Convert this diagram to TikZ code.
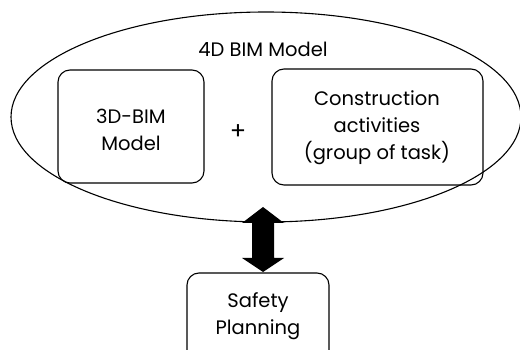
\documentclass[tikz,border=0pt]{standalone}
\usepackage{fontspec}
\setmainfont{Poppins}
\begin{document}
\begin{tikzpicture}[x=1pt,y=-1pt,
  box/.style={draw=black, line width=1.1pt, rounded corners=12pt},
  lbl/.style={font=\fontsize{19.5}{27}\selectfont, align=center, inner sep=0pt}]
\useasboundingbox (0,0) rectangle (520,350);
% outer ellipse: the 4D model
\draw[line width=1.1pt] (266,117) ellipse [x radius=255, y radius=105];
\node[lbl] (title) at (263,49) {4D BIM Model};
% the two parts combined
\draw[box] (58,70) rectangle (204,183);
\node[lbl] (bim) at (131,130) {3D-BIM\\Model};
\node[lbl, font=\fontsize{24}{27}\selectfont] (plus) at (238,132) {+};
\draw[box] (272,69) rectangle (483,185);
\node[lbl] (act) at (377,128) {Construction\\activities\\(group of task)};
% safety planning box
\draw[box] (187,273) rectangle (329,380);
\node[lbl] (safe) at (258,316) {Safety\\Planning};
\coordinate (top) at (263,207);
\coordinate (bot) at (263,272);
% thick double-headed link
\fill[black] (top) -- (284,223) -- (274,223) -- (274,258) -- (284,258)
  -- (bot) -- (242,258) -- (252,258) -- (252,223) -- (242,223) -- cycle;
\end{tikzpicture}
\end{document}
